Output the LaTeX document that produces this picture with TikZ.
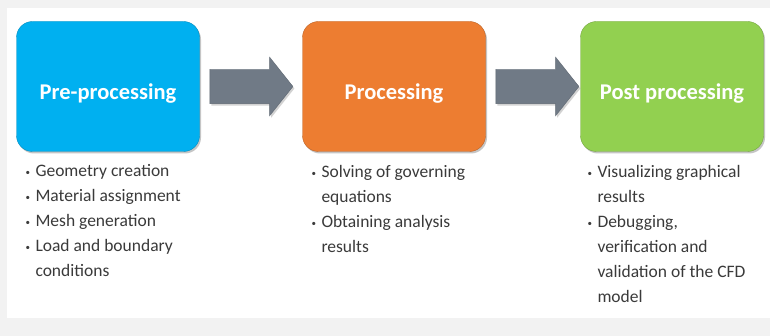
\documentclass[tikz,border=0pt]{standalone}
\usepackage{fontspec}
\setmainfont{Carlito}
\usetikzlibrary{positioning,shapes.arrows,shadows}
\definecolor{preblue}{RGB}{0,176,240}
\definecolor{procorange}{RGB}{237,125,49}
\definecolor{postgreen}{RGB}{146,208,80}
\definecolor{arrowgray}{RGB}{112,122,134}
\definecolor{itemgray}{RGB}{58,58,58}
\definecolor{framegray}{RGB}{242,242,242}
\newcommand{\itemdot}{\makebox[10pt][l]{\raisebox{1pt}{\small\textbullet}}}
\newcommand{\itemgap}{\hspace*{10pt}}

\begin{document}
\begin{tikzpicture}[x=1pt, y=1pt,
        stage/.style={rounded corners=16pt, minimum width=183pt, minimum height=130pt,
            inner sep=0pt, thin, text=white, font=\fontsize{22.5}{26}\selectfont\bfseries,
            text height=32pt, text depth=5pt,
            drop shadow={shadow xshift=1.5pt, shadow yshift=-2pt, opacity=0.45}},
        blockarrow/.style={single arrow, fill=arrowgray, draw=arrowgray!85!black, thin,
            minimum height=83pt, minimum width=58pt, inner xsep=0pt, inner ysep=17pt,
            single arrow head extend=12pt, single arrow tip angle=103,
            drop shadow={shadow xshift=1.5pt, shadow yshift=-2pt, opacity=0.35}},
        items/.style={align=left, inner sep=0pt, text=itemgray,
            font=\fontsize{17.5}{25}\selectfont},
    ]
    \fill[framegray] (0,0) rectangle (770,-336);
    \fill[white] (7,-8) rectangle (770,-318);
    \useasboundingbox (0,0) rectangle (770,-336);

    \node[stage, fill=preblue, draw=preblue!80!black] (pre) at (108,-86.5) {Pre-processing};
    \node[stage, fill=procorange, draw=procorange!80!black] (proc) at (394,-86.5) {Processing};
    \node[stage, fill=postgreen, draw=postgreen!80!black] (post) at (672,-86.5) {Post processing};

    \node[blockarrow, right=10pt of pre] (step1) {};
    \node[blockarrow, right=10pt of proc] (step2) {};

    \node[items, below right=13pt and 9pt of pre.south west] (preitems) {%
        \itemdot Geometry creation\\
        \itemdot Material assignment\\
        \itemdot Mesh generation\\
        \itemdot Load and boundary\\
        \itemgap conditions};
    \node[items, below right=13pt and 9pt of proc.south west] (procitems) {%
        \itemdot Solving of governing\\
        \itemgap equations\\
        \itemdot Obtaining analysis\\
        \itemgap results};
    \node[items, below right=13pt and 7pt of post.south west] (postitems) {%
        \itemdot Visualizing graphical\\
        \itemgap results\\
        \itemdot Debugging,\\
        \itemgap verification and\\
        \itemgap validation of the CFD\\
        \itemgap model};
\end{tikzpicture}
\end{document}
